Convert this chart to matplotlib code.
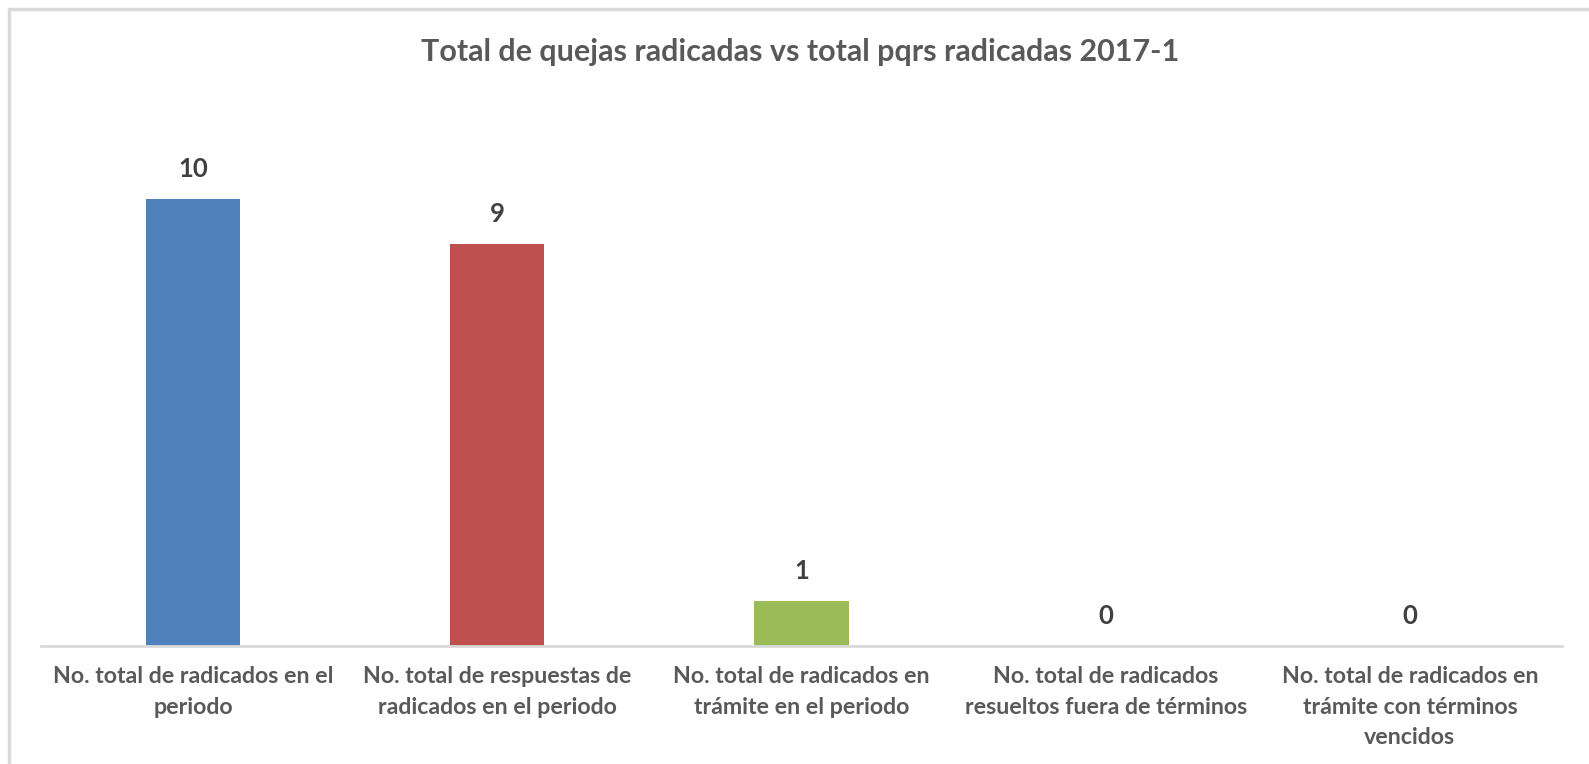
import matplotlib
matplotlib.use("Agg")
import matplotlib.pyplot as plt
from matplotlib.patches import Rectangle

categories = [
    "No. total de radicados en el\nperiodo",
    "No. total de respuestas de\nradicados en el periodo",
    "No. total de radicados en\ntrámite en el periodo",
    "No. total de radicados\nresueltos fuera de términos",
    "No. total de radicados en\ntrámite con términos\nvencidos",
]
values = [10, 9, 1, 0, 0]
colors = ["#4F81BD", "#C0504D", "#9BBB59", "#4F81BD", "#4F81BD"]
title = "Total de quejas radicadas vs total pqrs radicadas 2017-1"

plt.rcParams["font.family"] = ["Lato", "DejaVu Sans"]
text_color = "#595959"

W, H = 1589, 764
fig = plt.figure(figsize=(W / 100, H / 100), dpi=100)

# chart frame (cut off at right and bottom like the screenshot)
fig.patches.append(Rectangle((9 / W, -0.1), 1.2, (H - 9) / H + 0.1,
                             transform=fig.transFigure, fill=False,
                             edgecolor="#D9D9D9", linewidth=2.5))

left, right = 41 / W, 1562 / W
bottom = (H - 646) / H
top = (H - 110) / H
ax = fig.add_axes([left, bottom, right - left, top - bottom])

x = list(range(len(values)))
ax.bar(x, values, width=0.31, color=colors, zorder=2)
ax.set_xlim(-0.5, len(values) - 0.5)
ax.set_ylim(0, 12)

for xi, v in zip(x, values):
    ax.annotate(str(v), (xi, v), xytext=(0, 13), textcoords="offset points",
                ha="center", va="bottom", fontsize=18.5, fontweight="bold",
                color="#404040")

for s in ["top", "right", "left"]:
    ax.spines[s].set_visible(False)
ax.spines["bottom"].set_color("#D9D9D9")
ax.spines["bottom"].set_linewidth(2)
ax.set_yticks([])
ax.set_xticks(x)
ax.set_xticklabels(categories, fontsize=16.7, fontweight="bold",
                   color=text_color, linespacing=1.56)
ax.tick_params(axis="x", length=0, pad=14.5)

fig.text(800 / W, (H - 52) / H, title, ha="center", va="center",
         fontsize=22, fontweight="bold", color=text_color)

fig.savefig("out.png", dpi=100)
